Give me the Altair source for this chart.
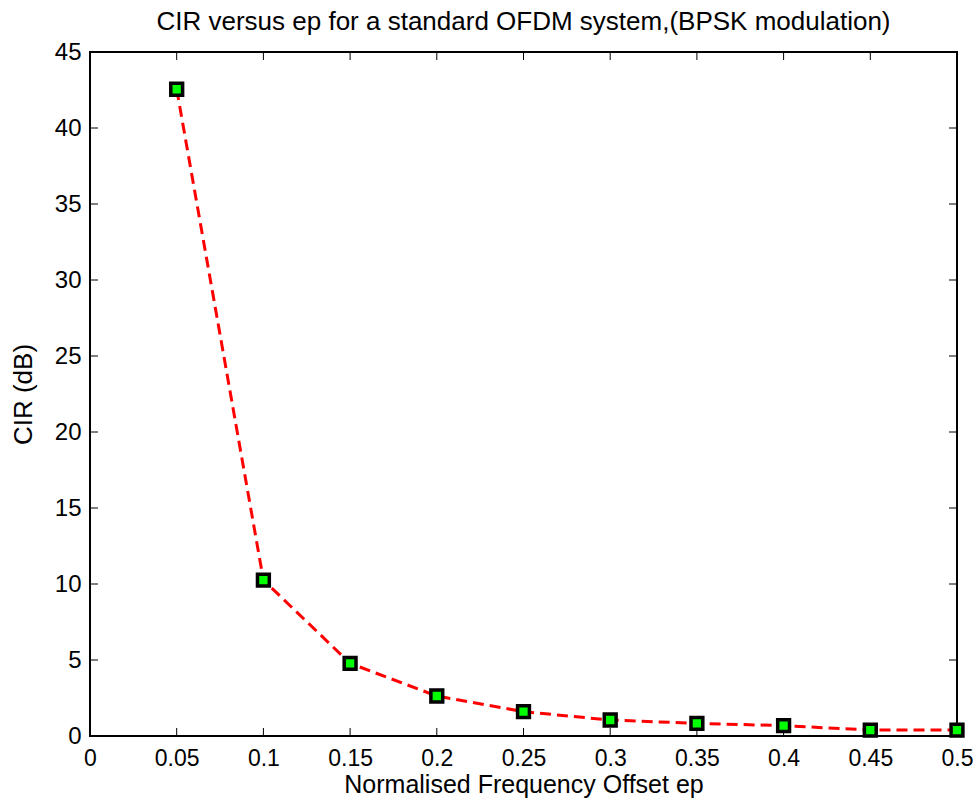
import altair as alt
import pandas as pd

ep = [0.05, 0.1, 0.15, 0.2, 0.25, 0.3, 0.35, 0.4, 0.45, 0.5]
cir = [42.55, 10.26, 4.78, 2.63, 1.6, 1.05, 0.83, 0.68, 0.39, 0.39]
x_ticks = [0, 0.05, 0.1, 0.15, 0.2, 0.25, 0.3, 0.35, 0.4, 0.45, 0.5]
y_ticks = [0, 5, 10, 15, 20, 25, 30, 35, 40, 45]

df = pd.DataFrame({"ep": ep, "cir": cir})
xt = pd.DataFrame({"v": x_ticks})
yt = pd.DataFrame({"v": y_ticks})

W, H = 867, 684
FONT = "Liberation Sans"

xscale = alt.Scale(domain=[0, 0.5], nice=False, zero=False)
yscale = alt.Scale(domain=[0, 45], nice=False, zero=False)

base = alt.Chart(df)

line = base.mark_line(color="#ff0000", strokeWidth=3, strokeDash=[11, 6]).encode(
    x=alt.X("ep:Q", scale=xscale,
            axis=alt.Axis(values=x_ticks, format="~g", title="Normalised Frequency Offset ep",
                          tickSize=0, labelPadding=11, grid=False, domain=False,
                          labelFontSize=23, titleFontSize=25, labelFont=FONT, titleFont=FONT,
                          labelColor="black", titleColor="black", titleFontWeight="normal",
                          titlePadding=2, labelFlush=False, labelOverlap=False)),
    y=alt.Y("cir:Q", scale=yscale,
            axis=alt.Axis(values=y_ticks, title="CIR (dB)",
                          tickSize=0, labelPadding=9, grid=False, domain=False,
                          labelFontSize=24, titleFontSize=26, labelFont=FONT, titleFont=FONT,
                          labelColor="black", titleColor="black", titleFontWeight="normal",
                          titlePadding=18, labelFlush=False, labelOverlap=False)),
)

pts = base.mark_point(shape="square", filled=True, fill="#00ff00", stroke="black",
                      strokeWidth=3.5, size=140, opacity=1).encode(
    x=alt.X("ep:Q", scale=xscale), y=alt.Y("cir:Q", scale=yscale))

tl = 8
xb = alt.Chart(xt).mark_rule(color="black", strokeWidth=1).encode(
    x=alt.X("v:Q", scale=xscale), y=alt.value(H), y2=alt.value(H - tl))
xtp = alt.Chart(xt).mark_rule(color="black", strokeWidth=1).encode(
    x=alt.X("v:Q", scale=xscale), y=alt.value(0), y2=alt.value(tl))
yl = alt.Chart(yt).mark_rule(color="black", strokeWidth=1).encode(
    y=alt.Y("v:Q", scale=yscale), x=alt.value(0), x2=alt.value(tl))
yr = alt.Chart(yt).mark_rule(color="black", strokeWidth=1).encode(
    y=alt.Y("v:Q", scale=yscale), x=alt.value(W), x2=alt.value(W - tl))

chart = alt.layer(xb, xtp, yl, yr, line, pts).properties(
    width=W, height=H,
    background="white",
    title=alt.TitleParams("CIR versus ep for a standard OFDM system,(BPSK modulation)",
                          font=FONT, fontSize=26, fontWeight="normal", color="black",
                          offset=5),
    autosize=alt.AutoSizeParams(type="none"),
    padding={"left": 90, "top": 52, "right": 22, "bottom": 71},
).configure_view(stroke="black", strokeWidth=2)

chart.save("out.html", embed_options={"renderer": "svg", "actions": False})
